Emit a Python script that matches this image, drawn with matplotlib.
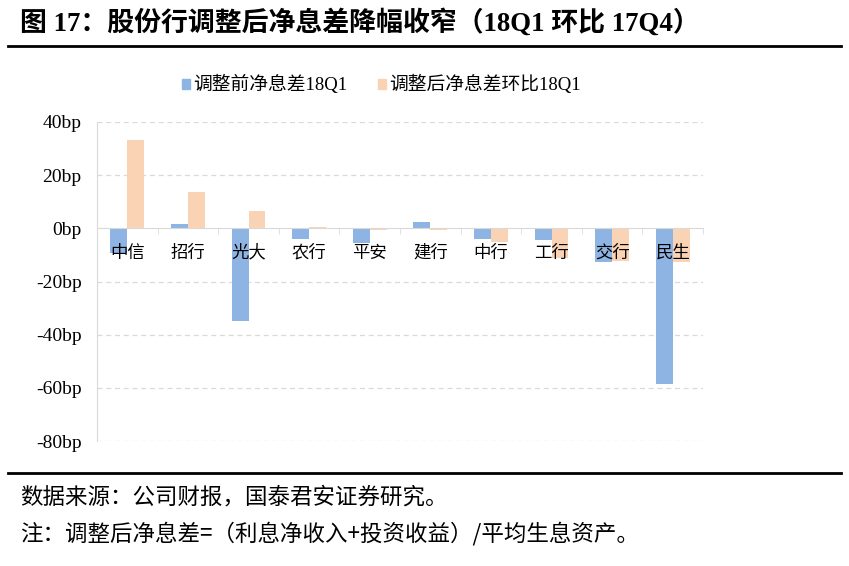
import matplotlib
matplotlib.use('Agg')
import matplotlib.pyplot as plt
import numpy as np
from matplotlib.lines import Line2D
from matplotlib.patches import Rectangle

# data (bp)
banks = ['中信', '招行', '光大', '农行', '平安', '建行', '中行', '工行', '交行', '民生']
nim_before = [-9.4, 1.5, -34.7, -3.9, -5.4, 2.4, -4.0, -4.4, -12.8, -58.5]
nim_adj_qoq = [33.3, 13.7, 6.6, 0.6, -0.5, -0.8, -5.3, -11.2, -12.2, -12.6]
yticks = [40, 20, 0, -20, -40, -60, -80]
series_names = ['调整前净息差18Q1', '调整后净息差环比18Q1']

BLUE = '#8EB4E3'
ORANGE = '#FAD3B4'
GRID = '#D9D9D9'
MIX = ['Liberation Serif', 'Noto Sans CJK SC']
CJK = ['Noto Sans CJK SC', 'DejaVu Sans']

fig = plt.figure(figsize=(8.49, 5.66), dpi=100)
ax = fig.add_axes([97 / 849, 1 - 441 / 566, 606 / 849, 319 / 566])
ax.set_axisbelow(False)

x = np.arange(len(banks))
w = 0.28
ax.bar(x - w / 2, nim_before, w, color=BLUE, zorder=1)
ax.bar(x + w / 2, nim_adj_qoq, w, color=ORANGE, zorder=1)

ax.set_xlim(-0.5, len(banks) - 0.5)
ax.set_ylim(-80, 40)
ax.set_yticks(yticks)
ax.set_yticklabels([f'{v}bp' for v in yticks], family='Liberation Serif', fontsize=14)
for v in yticks:
    if v != 0:
        ax.axhline(v, color=GRID, lw=0.9, ls=(0, (4, 3)), zorder=0)

ax.spines['top'].set_visible(False)
ax.spines['right'].set_visible(False)
ax.spines['left'].set_color(GRID)
ax.spines['bottom'].set_position(('data', 0))
ax.spines['bottom'].set_color(GRID)
ax.tick_params(axis='y', length=0, pad=11)

ax.set_xticks(x)
ax.set_xticklabels(banks, family=CJK, fontsize=12.5)
ax.tick_params(axis='x', which='major', length=0, pad=11)
ax.set_xticks(np.arange(len(banks) + 1) - 0.5, minor=True)
ax.tick_params(axis='x', which='minor', length=4, color=GRID, direction='out')

# legend
lx = [182 / 849, 378 / 849]
ly = 1 - 84 / 566
for px, name, c in zip(lx, series_names, [BLUE, ORANGE]):
    fig.add_artist(Rectangle((px, ly - 5 / 566), 8 / 849, 10 / 566, color=c,
                             transform=fig.transFigure))
    fig.text(px + 11 / 849, ly, name, family=MIX, fontsize=13.5, va='center', ha='left')

# title and frame lines
fig.text(20 / 849, 1 - 23 / 566, '图 17：股份行调整后净息差降幅收窄（18Q1 环比 17Q4）',
         family=MIX, fontsize=19.4, fontweight='bold', va='center', ha='left')
fig.add_artist(Line2D([8 / 849, 841 / 849], [1 - 46 / 566] * 2, color='black', lw=2,
                      transform=fig.transFigure))
fig.add_artist(Line2D([8 / 849, 841 / 849], [1 - 473 / 566] * 2, color='black', lw=2,
                      transform=fig.transFigure))

fig.text(20 / 849, 1 - 497 / 566, '数据来源：公司财报，国泰君安证券研究。',
         family=CJK, fontsize=16.2, va='center', ha='left')
fig.text(20 / 849, 1 - 534 / 566, '注：调整后净息差=（利息净收入+投资收益）/平均生息资产。',
         family=CJK, fontsize=16.2, va='center', ha='left')

fig.savefig('out.png', dpi=100)
